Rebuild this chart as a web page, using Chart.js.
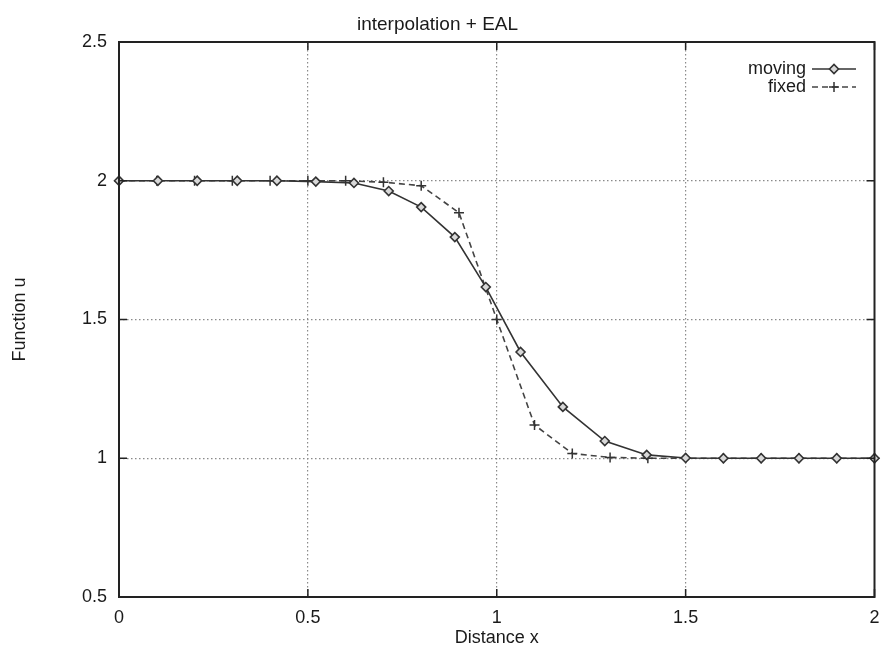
<!DOCTYPE html>
<html>
<head>
<meta charset="utf-8">
<script src="https://cdn.jsdelivr.net/npm/chart.js@4/dist/chart.umd.min.js"></script>
<style>
  html, body { margin: 0; padding: 0; background: #ffffff; }
  #c { display: block; }
</style>
</head>
<body>
<canvas id="c" width="881" height="653" style="width:881px;height:653px"></canvas>
<script>
// ---- data ----
const movingX = [0, 0.103, 0.207, 0.313, 0.418, 0.521, 0.622, 0.714, 0.800, 0.889, 0.971, 1.063, 1.175, 1.286, 1.397, 1.5, 1.6, 1.7, 1.8, 1.9, 2.0];
const movingY = [2, 2, 2, 2, 2, 1.997, 1.992, 1.963, 1.905, 1.797, 1.617, 1.383, 1.185, 1.062, 1.012, 1.001, 1, 1, 1, 1, 1];
const fixedX = [0, 0.1, 0.2, 0.3, 0.4, 0.5, 0.6, 0.7, 0.8, 0.9, 1.0, 1.1, 1.2, 1.3, 1.4, 1.5, 1.6, 1.7, 1.8, 1.9, 2.0];
const fixedY = [2, 2, 2, 2, 2, 2, 2, 1.995, 1.982, 1.885, 1.5, 1.12, 1.017, 1.003, 1.0, 1, 1, 1, 1, 1, 1];
const seriesLabels = ['moving', 'fixed'];
const xTicks = [0, 0.5, 1, 1.5, 2];
const yTicks = [0.5, 1, 1.5, 2, 2.5];
const chartTitle = 'interpolation + EAL';
const xTitle = 'Distance x';
const yTitle = 'Function u';

const FONT = "'Liberation Sans', Arial, Helvetica, sans-serif";
const TEXT = '#1a1a1a';

function pts(xs, ys) { return xs.map((x, i) => ({ x: x, y: ys[i] })); }

// border, inward ticks, legend drawn in gnuplot style
const framePlugin = {
  id: 'frame',
  afterDatasetsDraw(chart) {
    const { ctx, chartArea: a, scales } = chart;
    ctx.save();
    // inward tick marks on all four sides
    ctx.strokeStyle = '#222';
    ctx.lineWidth = 1.5;
    const tl = 8;
    xTicks.forEach(v => {
      const px = scales.x.getPixelForValue(v);
      ctx.beginPath();
      ctx.moveTo(px, a.bottom); ctx.lineTo(px, a.bottom - tl);
      ctx.moveTo(px, a.top); ctx.lineTo(px, a.top + tl);
      ctx.stroke();
    });
    yTicks.forEach(v => {
      const py = scales.y.getPixelForValue(v);
      ctx.beginPath();
      ctx.moveTo(a.left, py); ctx.lineTo(a.left + tl, py);
      ctx.moveTo(a.right, py); ctx.lineTo(a.right - tl, py);
      ctx.stroke();
    });
    // frame
    ctx.lineWidth = 2;
    ctx.strokeStyle = '#222';
    ctx.strokeRect(a.left, a.top, a.right - a.left, a.bottom - a.top);

    // legend (top right, text right-aligned, sample to its right)
    ctx.font = '18px ' + FONT;
    ctx.fillStyle = TEXT;
    ctx.textAlign = 'right';
    ctx.textBaseline = 'middle';
    const rows = [69, 87];
    chart.data.datasets.forEach((ds, i) => {
      const y = rows[i];
      ctx.fillText(ds.label, 806, y);
      ctx.save();
      ctx.strokeStyle = ds.borderColor;
      ctx.lineWidth = ds.borderWidth;
      ctx.setLineDash(ds.borderDash || []);
      ctx.beginPath();
      ctx.moveTo(812, y); ctx.lineTo(856, y);
      ctx.stroke();
      ctx.setLineDash([]);
      ctx.fillStyle = ds.pointBackgroundColor;
      ctx.strokeStyle = ds.pointBorderColor;
      ctx.lineWidth = ds.pointBorderWidth;
      Chart.helpers.drawPoint(ctx, { pointStyle: ds.pointStyle, radius: ds.pointRadius, rotation: 0, borderWidth: ds.pointBorderWidth }, 834, y);
      ctx.restore();
    });
    ctx.restore();
  }
};

new Chart(document.getElementById('c'), {
  type: 'scatter',
  data: {
    datasets: [
      {
        label: seriesLabels[0],
        data: pts(movingX, movingY),
        showLine: true,
        borderColor: '#333333',
        borderWidth: 1.6,
        pointStyle: 'rectRot',
        pointRadius: 4.5,
        pointBorderWidth: 1.6,
        pointBorderColor: '#333333',
        pointBackgroundColor: '#d8d8d8',
        clip: false,
        order: 1
      },
      {
        label: seriesLabels[1],
        data: pts(fixedX, fixedY),
        showLine: true,
        borderColor: '#444444',
        borderWidth: 1.6,
        borderDash: [6, 4],
        pointStyle: 'cross',
        pointRadius: 5,
        pointBorderWidth: 1.5,
        pointBorderColor: '#333333',
        pointBackgroundColor: '#333333',
        clip: false,
        order: 2
      }
    ]
  },
  options: {
    responsive: false,
    devicePixelRatio: 1,
    animation: false,
    layout: { padding: { top: 0, left: 0, right: 6, bottom: 0 } },
    plugins: {
      legend: { display: false },
      tooltip: { enabled: false },
      title: {
        display: true,
        text: chartTitle,
        color: TEXT,
        font: { family: FONT, size: 19, weight: 'normal', lineHeight: 1.2 },
        padding: { top: 13, bottom: 6.2 }
      }
    },
    scales: {
      x: {
        type: 'linear',
        min: 0, max: 2,
        afterFit(s) { s.height = 56; s.paddingLeft = 0; s.paddingRight = 0; },
        afterBuildTicks(s) { s.ticks = xTicks.map(v => ({ value: v })); },
        ticks: {
          color: TEXT,
          font: { family: FONT, size: 18 },
          padding: 10,
          maxRotation: 0,
          callback: v => String(v)
        },
        grid: {
          drawTicks: false,
          color: ctx => (ctx.tick && (ctx.tick.value === 0 || ctx.tick.value === 2)) ? 'rgba(0,0,0,0)' : '#8a8a8a',
          lineWidth: 1.2
        },
        border: { display: false, dash: [1.5, 2.5] },
        title: {
          display: true,
          text: xTitle,
          color: TEXT,
          font: { family: FONT, size: 18 },
          padding: { top: 0, bottom: 4 }
        }
      },
      y: {
        type: 'linear',
        min: 0.5, max: 2.5,
        afterFit(s) { s.width = 119; s.paddingTop = 0; s.paddingBottom = 0; },
        afterBuildTicks(s) { s.ticks = yTicks.map(v => ({ value: v })); },
        ticks: {
          color: TEXT,
          font: { family: FONT, size: 18 },
          padding: 12,
          callback: v => String(v)
        },
        grid: {
          drawTicks: false,
          color: ctx => (ctx.tick && (ctx.tick.value === 0.5 || ctx.tick.value === 2.5)) ? 'rgba(0,0,0,0)' : '#8a8a8a',
          lineWidth: 1.2
        },
        border: { display: false, dash: [1.5, 2.5] },
        title: {
          display: true,
          text: yTitle,
          color: TEXT,
          font: { family: FONT, size: 18 },
          padding: { top: 9, bottom: 0 }
        }
      }
    }
  },
  plugins: [framePlugin]
});
</script>
</body>
</html>
